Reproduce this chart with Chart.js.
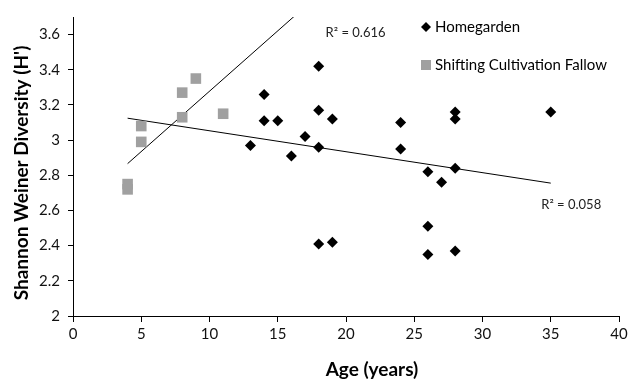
<!DOCTYPE html>
<html>
<head>
<meta charset="utf-8">
<script src="https://cdn.jsdelivr.net/npm/chart.js@4.4.1/dist/chart.umd.min.js"></script>
<style>
  html, body { margin: 0; padding: 0; background: #fff; }
  #wrap { width: 632px; height: 380px; position: relative; }
</style>
</head>
<body>
<div id="wrap"><canvas id="chart"></canvas></div>
<script>
// === DATA ===
const homeAge = [13, 14, 14, 15, 16, 17, 18, 18, 18, 18, 19, 19, 24, 24, 26, 26, 26, 27, 28, 28, 28, 28, 35];
const homeH = [2.97, 3.26, 3.11, 3.11, 2.91, 3.02, 3.42, 3.17, 2.96, 2.41, 3.12, 2.42, 3.10, 2.95, 2.82, 2.51, 2.35, 2.76, 3.16, 3.12, 2.84, 2.37, 3.16];

const fallowAge = [4, 4, 5, 5, 8, 8, 9, 11];
const fallowH = [2.75, 2.72, 3.08, 2.99, 3.27, 3.13, 3.35, 3.15];

// trendline x spans (as drawn in the picture, forecast included)
const homeTrendSpan = [4, 35];
const fallowTrendSpan = [4, 17];

const xTicks = [0, 5, 10, 15, 20, 25, 30, 35, 40];
const yTicks = [2, 2.2, 2.4, 2.6, 2.8, 3, 3.2, 3.4, 3.6];

const seriesNames = ["Homegarden", "Shifting Cultivation Fallow"];
const r2Labels = ["R² = 0.616", "R² = 0.058"];

// === HELPERS ===
const toPoints = (xs, ys) => xs.map((x, i) => ({ x, y: ys[i] }));

function linFit(xs, ys) {
  const n = xs.length;
  const mx = xs.reduce((a, b) => a + b, 0) / n;
  const my = ys.reduce((a, b) => a + b, 0) / n;
  let sxy = 0, sxx = 0;
  xs.forEach((x, i) => { sxy += (x - mx) * (ys[i] - my); sxx += (x - mx) * (x - mx); });
  const b = sxy / sxx;
  return x => my + b * (x - mx);
}

const homeFit = linFit(homeAge, homeH);
const fallowFit = linFit(fallowAge, fallowH);

const FONT = "Lato, 'Open Sans', sans-serif";
const GRAY = "#a0a0a0";

// === EXTRA TEXT: titles, R² labels, legend ===
const extras = {
  id: "extras",
  afterDraw(chart) {
    const ctx = chart.ctx;
    const xs = chart.scales.x, ys = chart.scales.y;
    ctx.save();
    ctx.fillStyle = "#000";

    // axis titles
    ctx.font = "bold 19px " + FONT;
    ctx.textAlign = "center";
    ctx.textBaseline = "middle";
    ctx.fillText("Age (years)", 372, 370);
    ctx.save();
    ctx.translate(22, 173);
    ctx.rotate(-Math.PI / 2);
    ctx.fillText("Shannon Weiner Diversity (H')", 0, 0);
    ctx.restore();

    // R² labels
    ctx.font = "13px " + FONT;
    ctx.fillStyle = "#222";
    ctx.fillText(r2Labels[0], xs.getPixelForValue(20.7), ys.getPixelForValue(3.61));
    ctx.fillText(r2Labels[1], xs.getPixelForValue(36.5), ys.getPixelForValue(2.63));

    // legend
    ctx.fillStyle = "#000";
    ctx.font = "15px " + FONT;
    ctx.textAlign = "left";
    ctx.beginPath();
    ctx.moveTo(421, 27); ctx.lineTo(426, 22); ctx.lineTo(431, 27); ctx.lineTo(426, 32);
    ctx.closePath();
    ctx.fill();
    ctx.fillText(seriesNames[0], 435, 27);
    ctx.fillStyle = GRAY;
    ctx.fillRect(421, 60, 10, 10);
    ctx.fillStyle = "#000";
    ctx.fillText(seriesNames[1], 435, 65);
    ctx.restore();
  }
};

// === CHART ===
new Chart(document.getElementById("chart"), {
  type: "scatter",
  data: {
    datasets: [
      {
        label: seriesNames[0],
        data: toPoints(homeAge, homeH),
        pointStyle: "rectRot",
        pointRadius: 5.5,
        pointHoverRadius: 5.5,
        backgroundColor: "#000",
        borderColor: "#000",
        borderWidth: 0
      },
      {
        label: seriesNames[1],
        data: toPoints(fallowAge, fallowH),
        pointStyle: "rect",
        pointRadius: 7.5,
        pointHoverRadius: 7.5,
        backgroundColor: GRAY,
        borderColor: GRAY,
        borderWidth: 0
      },
      {
        type: "line",
        label: "fallow trend",
        data: fallowTrendSpan.map(x => ({ x, y: fallowFit(x) })),
        borderColor: "#000",
        borderWidth: 1,
        pointRadius: 0,
        fill: false
      },
      {
        type: "line",
        label: "home trend",
        data: homeTrendSpan.map(x => ({ x, y: homeFit(x) })),
        borderColor: "#000",
        borderWidth: 1,
        pointRadius: 0,
        fill: false
      }
    ]
  },
  options: {
    responsive: true,
    maintainAspectRatio: false,
    animation: false,
    events: [],
    layout: { padding: { top: 12, right: 13, left: 0, bottom: 0 } },
    plugins: { legend: { display: false }, tooltip: { enabled: false } },
    scales: {
      x: {
        type: "linear",
        min: 0,
        max: 40,
        afterBuildTicks: s => { s.ticks = xTicks.map(v => ({ value: v })); },
        afterFit: s => { s.height = 64; },
        grid: { drawOnChartArea: false, drawTicks: true, tickLength: 6, color: "#000" },
        border: { color: "#000", width: 1 },
        ticks: { color: "#111", font: { family: FONT, size: 15 }, padding: 3, maxRotation: 0 }
      },
      y: {
        type: "linear",
        min: 2,
        max: 3.7,
        afterBuildTicks: s => { s.ticks = yTicks.map(v => ({ value: v })); },
        afterFit: s => { s.width = 73; },
        grid: { drawOnChartArea: false, drawTicks: true, tickLength: 5, color: "#000" },
        border: { color: "#000", width: 1 },
        ticks: { color: "#111", font: { family: FONT, size: 15 }, padding: 8, callback: v => String(Math.round(v * 10) / 10) }
      }
    }
  },
  plugins: [extras]
});
</script>
</body>
</html>
